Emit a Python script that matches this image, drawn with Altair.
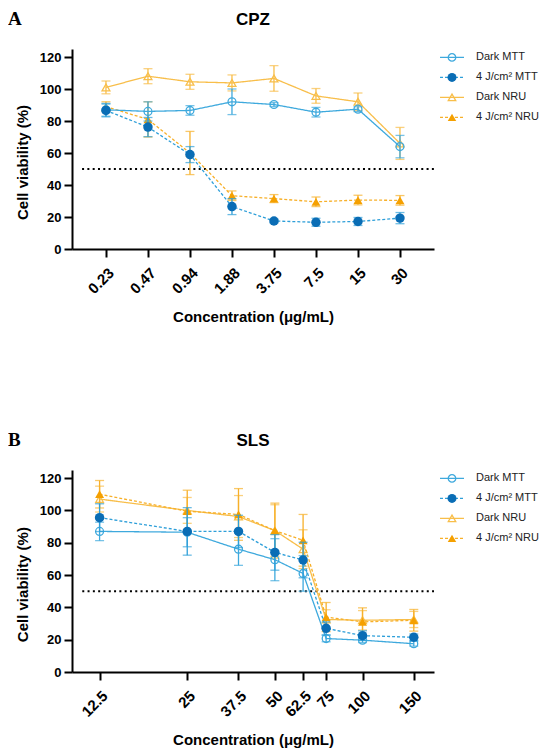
import altair as alt
import pandas as pd

FONT = "Liberation Sans"
SERIES = ["Dark MTT", "4 J/cm² MTT", "Dark NRU", "4 J/cm² NRU"]
Y_TICKS = [0, 20, 40, 60, 80, 100, 120]

# ---- CPZ (panel A) ----
cpz_conc = [0.234375, 0.46875, 0.9375, 1.875, 3.75, 7.5, 15, 30]
cpz_dark_mtt = [87, 86, 86.6, 92, 90.3, 85.5, 87.4, 64]
cpz_dark_mtt_err = [4, 6, 3, 8, 1.2, 3, 1.5, 7]
cpz_uv_mtt = [86.6, 76.2, 59, 26.5, 17.5, 16.7, 17.2, 19.3]
cpz_uv_mtt_err = [4, 6, 5, 5, 1.2, 2.5, 2.5, 3.5]
cpz_dark_nru = [101, 108, 104.5, 103.8, 106.6, 95.7, 92, 66]
cpz_dark_nru_err = [4, 4.7, 4.7, 5, 8, 4.6, 5.5, 10]
cpz_uv_nru = [89, 81, 60, 33.3, 31.5, 29.5, 30.6, 30.4]
cpz_uv_nru_err = [3, 11, 13.5, 3, 2.5, 3, 3, 3]

# ---- SLS (panel B) ----
sls_conc = [12.5, 25, 37.5, 50, 62.5, 75, 100, 150]
sls_dark_mtt = [87, 86.5, 76, 69.5, 61, 20.7, 19.7, 17.5]
sls_dark_mtt_err = [5.7, 9, 10, 13, 11, 2, 1.5, 1.5]
sls_uv_mtt = [95.5, 87, 87, 74, 69.3, 27, 22.5, 21.5]
sls_uv_mtt_err = [8.6, 14.7, 10, 11, 11, 4, 3, 2]
sls_dark_nru = [107, 100, 96.2, 87.5, 76, 32.5, 32, 32.5]
sls_dark_nru_err = [8, 8, 13, 16, 12, 6, 6, 5]
sls_uv_nru = [110, 99.5, 97.5, 87.5, 81.5, 34, 31, 32]
sls_uv_nru_err = [8.5, 13, 16, 17, 16, 9, 8.7, 6.7]

STYLE = {
    "Dark MTT": dict(line="#3EA9DD", mark="#3EA9DD", shape="circle", filled=False, size=62, dash=[1, 0]),
    "4 J/cm² MTT": dict(line="#2E9FD9", mark="#0A6DB5", shape="circle", filled=True, size=90, dash=[3, 2]),
    "Dark NRU": dict(line="#F8BE4A", mark="#F8BE4A", shape="triangle-up", filled=False, size=62, dash=[1, 0]),
    "4 J/cm² NRU": dict(line="#F7B02A", mark="#F5A000", shape="triangle-up", filled=True, size=80, dash=[3, 2]),
}

PLOT_W = 362


def panel(conc, vals, errs, title, letter, xdomain, refx, fmt, height):
    xs = alt.Scale(type="log", domain=xdomain, nice=False)
    ys = alt.Scale(domain=[0, 125], nice=False)
    xa = alt.Axis(values=conc, format=fmt, labelAngle=-45, title="Concentration (μg/mL)",
                  titlePadding=13, labelFontSize=15, labelPadding=8, labelOverlap=False)
    ya = alt.Axis(values=Y_TICKS, title="Cell viability (%)", titleY=height * 0.565, titlePadding=9)

    data_layers = [
        alt.Chart(pd.DataFrame({"r": [0]})).mark_rule(color="black", strokeDash=[2, 3.3], strokeWidth=2).encode(
            x=alt.X(datum=refx[0], scale=xs, axis=xa), x2=alt.datum(refx[1]),
            y=alt.Y(datum=50, scale=ys, axis=ya))
    ]
    for i in [2, 3, 0, 1]:
        s = SERIES[i]
        st = STYLE[s]
        df = pd.DataFrame({
            "conc": conc, "v": vals[i],
            "lo": [a - b for a, b in zip(vals[i], errs[i])],
            "hi": [a + b for a, b in zip(vals[i], errs[i])],
        })
        base = alt.Chart(df)
        X = alt.X("conc:Q", scale=xs, axis=xa)
        data_layers.append(base.mark_rule(color=st["line"], strokeWidth=1.3).encode(
            x=X, y=alt.Y("lo:Q", scale=ys, axis=ya), y2="hi:Q"))
        for f in ["lo", "hi"]:
            data_layers.append(base.mark_tick(color=st["line"], orient="horizontal", size=9, thickness=1.3).encode(
                x=X, y=alt.Y(f + ":Q", scale=ys, axis=ya)))
        data_layers.append(base.mark_line(color=st["line"], strokeWidth=1.3, strokeDash=st["dash"]).encode(
            x=X, y=alt.Y("v:Q", scale=ys, axis=ya)))
        data_layers.append(base.mark_point(
            shape=st["shape"], filled=st["filled"], size=st["size"], opacity=1,
            color=st["mark"], strokeWidth=1.3).encode(
            x=X, y=alt.Y("v:Q", scale=ys, axis=ya)))

    # panel letter and panel title
    data_layers.append(alt.Chart(pd.DataFrame({"t": [letter]})).mark_text(
        font="Liberation Serif", fontSize=19, fontWeight="bold", align="left", baseline="top",
        color="black").encode(text="t:N", x=alt.value(-64), y=alt.value(-39)))
    data_layers.append(alt.Chart(pd.DataFrame({"t": [title]})).mark_text(
        font=FONT, fontSize=17, fontWeight="bold", align="center", baseline="top",
        color="black").encode(text="t:N", x=alt.value(PLOT_W / 2), y=alt.value(-37.5)))

    plot = alt.layer(*data_layers)

    # legend built from the series list
    step = 20.0
    ls = alt.Scale(domain=[-8.4 / step, (height - 8.4) / step], reverse=True, nice=False, zero=False)
    leg_layers = []
    for i, s in enumerate(SERIES):
        st = STYLE[s]
        ldf = pd.DataFrame({"row": [i], "label": [s]})
        lb = alt.Chart(ldf)
        LY = alt.Y("row:Q", scale=ls, axis=None)
        leg_layers.append(lb.mark_rule(color=st["line"], strokeWidth=1.3, strokeDash=st["dash"]).encode(
            x=alt.value(368), x2=alt.value(392), y=LY))
        leg_layers.append(lb.mark_point(shape=st["shape"], filled=st["filled"], size=st["size"] * 0.9,
                                        opacity=1, color=st["mark"], strokeWidth=1.3).encode(
            x=alt.value(380), y=LY))
        leg_layers.append(lb.mark_text(align="left", baseline="middle", fontSize=11, font=FONT,
                                       color="#222222").encode(x=alt.value(404), y=LY, text="label:N"))
    legend = alt.layer(*leg_layers)

    return alt.layer(plot, legend).resolve_scale(y="independent").properties(
        width=PLOT_W, height=height,
    )


top = panel(cpz_conc, [cpz_dark_mtt, cpz_uv_mtt, cpz_dark_nru, cpz_uv_nru],
            [cpz_dark_mtt_err, cpz_uv_mtt_err, cpz_dark_nru_err, cpz_uv_nru_err],
            "CPZ", "A", [0.1338, 52.6], [0.158, 52.6], ".2~f", 200)
bottom = panel(sls_conc, [sls_dark_mtt, sls_uv_mtt, sls_dark_nru, sls_uv_nru],
               [sls_dark_mtt_err, sls_uv_mtt_err, sls_dark_nru_err, sls_uv_nru_err],
               "SLS", "B", [10.05, 176], [10.9, 176], ".1~f", 202)

chart = alt.vconcat(top, bottom, spacing=106).properties(
    padding={"top": 2, "left": 0, "right": 0, "bottom": 0}
).configure_view(stroke=None).configure_axis(
    domainColor="black", domainWidth=2, tickColor="black", tickWidth=2, tickSize=8,
    labelFont=FONT, labelFontSize=13, labelFontWeight="bold", labelColor="black",
    titleFont=FONT, titleFontSize=15, titleFontWeight="bold", titleColor="black",
    grid=False, labelPadding=3,
)

chart.save("out.html", embed_options={"renderer": "svg", "actions": False})
